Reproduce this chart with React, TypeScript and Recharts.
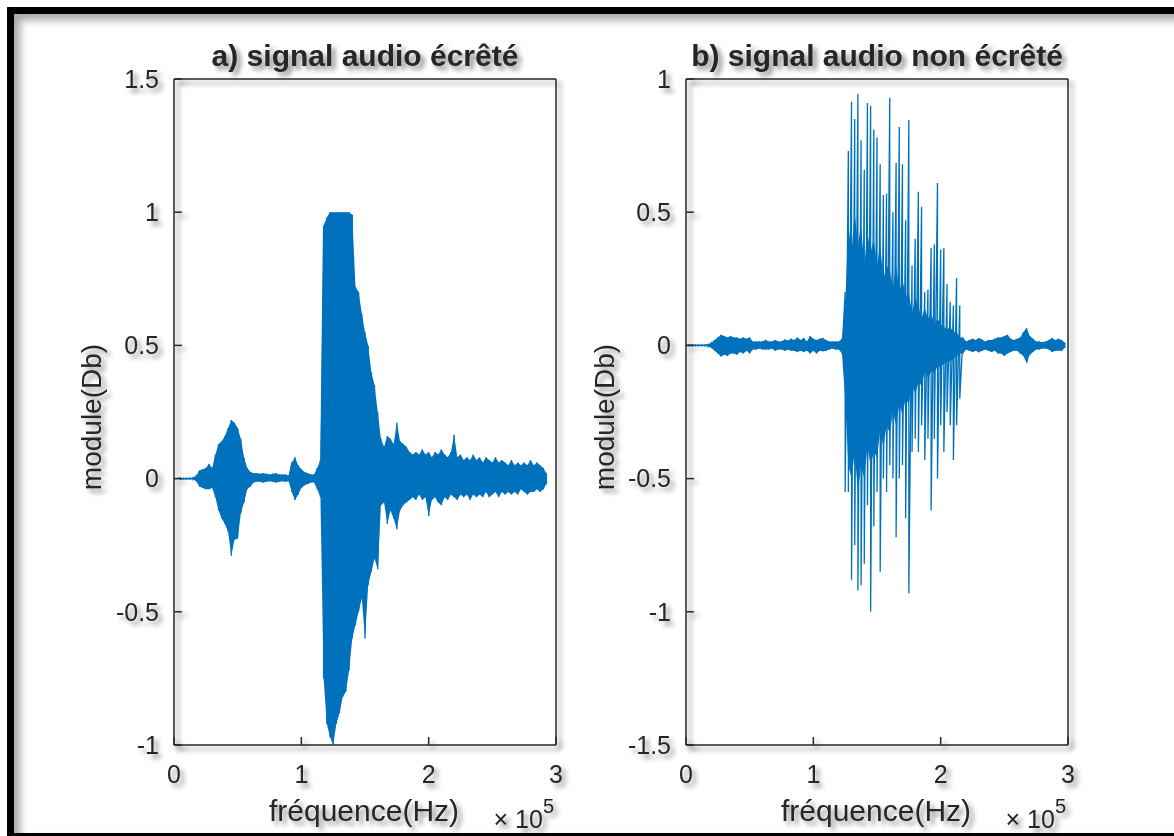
import { Area, ComposedChart, Line, XAxis, YAxis } from 'recharts';

// envelope of the signal, one (high, low) pair per 2.5 kHz bin
const BIN_HZ = 2500;

const xTicks = [0, 100000, 200000, 300000];
const aYTicks = [-1, -0.5, 0, 0.5, 1, 1.5];
const bYTicks = [-1.5, -1, -0.5, 0, 0.5, 1];

// a) clipped signal
const aHigh = [
  0, 0, 0.002, 0.002, 0.002, 0.002, 0.003, 0.01, 0.03, 0.035,
  0.04, 0.055, 0.04, 0.09, 0.13, 0.14, 0.16, 0.19, 0.22, 0.21,
  0.19, 0.15, 0.08, 0.04, 0.025, 0.02, 0.02, 0.018, 0.02, 0.018,
  0.015, 0.018, 0.02, 0.015, 0.015, 0.015, 0.012, 0.06, 0.08, 0.05,
  0.035, 0.025, 0.02, 0.015, 0.015, 0.04, 0.07, 0.95, 0.98, 1.0,
  1.0, 1.0, 1.0, 1.0, 1.0, 1.0, 0.99, 0.72, 0.7, 0.62,
  0.55, 0.5, 0.4, 0.35, 0.25, 0.15, 0.12, 0.16, 0.15, 0.13,
  0.21, 0.14, 0.13, 0.12, 0.1, 0.09, 0.1, 0.09, 0.11, 0.09,
  0.1, 0.08, 0.1, 0.09, 0.11, 0.09, 0.08, 0.1, 0.165, 0.08,
  0.09, 0.07, 0.08, 0.07, 0.09, 0.07, 0.08, 0.06, 0.08, 0.07,
  0.06, 0.08, 0.06, 0.07, 0.06, 0.05, 0.07, 0.05, 0.06, 0.05,
  0.06, 0.05, 0.07, 0.05, 0.06, 0.05, 0.04, 0.02,
];
const aLow = [
  0, 0, -0.002, -0.002, -0.002, -0.002, -0.003, -0.01, -0.03, -0.035,
  -0.04, -0.04, -0.035, -0.07, -0.12, -0.15, -0.17, -0.2, -0.29, -0.23,
  -0.225, -0.13, -0.09, -0.04, -0.03, -0.015, -0.012, -0.012, -0.015, -0.012,
  -0.01, -0.012, -0.015, -0.012, -0.01, -0.012, -0.01, -0.05, -0.08, -0.06,
  -0.035, -0.025, -0.02, -0.015, -0.015, -0.04, -0.07, -0.75, -0.92, -0.97,
  -1.0, -0.92, -0.88, -0.82, -0.8, -0.72, -0.6, -0.55, -0.5, -0.45,
  -0.6, -0.4, -0.35, -0.3, -0.34, -0.1, -0.09, -0.17, -0.12, -0.15,
  -0.19, -0.12, -0.1, -0.09, -0.08, -0.07, -0.08, -0.06, -0.08, -0.07,
  -0.14, -0.08, -0.07, -0.09, -0.1, -0.07, -0.08, -0.06, -0.07, -0.08,
  -0.06, -0.07, -0.06, -0.08, -0.06, -0.07, -0.06, -0.07, -0.05, -0.07,
  -0.06, -0.05, -0.07, -0.05, -0.06, -0.05, -0.06, -0.05, -0.06, -0.04,
  -0.05, -0.06, -0.05, -0.05, -0.04, -0.05, -0.04, -0.02,
];

// b) unclipped signal
const bHigh = [
  0.002, 0.002, 0.002, 0.002, 0.002, 0.002, 0.002, 0.004, 0.01, 0.02,
  0.03, 0.04, 0.035, 0.03, 0.035, 0.03, 0.03, 0.025, 0.03, 0.025,
  0.03, 0.015, 0.015, 0.015, 0.015, 0.02, 0.015, 0.015, 0.02, 0.015,
  0.015, 0.022, 0.018, 0.025, 0.02, 0.03, 0.02, 0.028, 0.015, 0.035,
  0.025, 0.02, 0.025, 0.028, 0.02, 0.015, 0.015, 0.015, 0.015, 0.025,
  0.2, 0.73, 0.915, 0.85, 0.945, 0.77, 0.66, 0.91, 0.9, 0.81,
  0.78, 0.68, 0.565, 0.57, 0.93, 0.5, 0.685, 0.82, 0.68, 0.47,
  0.846, 0.3, 0.4, 0.577, 0.52, 0.2, 0.21, 0.366, 0.38, 0.61,
  0.36, 0.366, 0.23, 0.164, 0.15, 0.253, 0.15, 0.03, 0.015, 0.02,
  0.025, 0.02, 0.028, 0.022, 0.015, 0.02, 0.02, 0.025, 0.03, 0.03,
  0.035, 0.04, 0.025, 0.02, 0.025, 0.03, 0.05, 0.065, 0.035, 0.025,
  0.015, 0.015, 0.012, 0.015, 0.02, 0.028, 0.02, 0.025, 0.02, 0.01,
];
const bLow = [
  -0.002, -0.002, -0.002, -0.002, -0.002, -0.002, -0.002, -0.004, -0.01, -0.02,
  -0.03, -0.042, -0.035, -0.04, -0.03, -0.03, -0.035, -0.025, -0.03, -0.02,
  -0.03, -0.015, -0.015, -0.012, -0.015, -0.015, -0.015, -0.012, -0.02, -0.015,
  -0.015, -0.02, -0.015, -0.02, -0.02, -0.025, -0.02, -0.025, -0.02, -0.03,
  -0.02, -0.03, -0.02, -0.022, -0.02, -0.015, -0.012, -0.015, -0.015, -0.03,
  -0.55, -0.55, -0.88, -0.75, -0.92, -0.9, -0.82, -0.6, -1.0, -0.68,
  -0.55, -0.85, -0.5, -0.55, -0.45, -0.5, -0.72, -0.5, -0.45, -0.65,
  -0.93, -0.4, -0.35, -0.4, -0.3, -0.43, -0.35, -0.62, -0.35, -0.5,
  -0.3, -0.4, -0.25, -0.3, -0.43, -0.3, -0.2, -0.03, -0.015, -0.02,
  -0.025, -0.02, -0.026, -0.02, -0.015, -0.02, -0.025, -0.02, -0.03, -0.03,
  -0.04, -0.03, -0.025, -0.02, -0.02, -0.03, -0.04, -0.066, -0.035, -0.025,
  -0.015, -0.015, -0.012, -0.012, -0.015, -0.025, -0.02, -0.02, -0.02, -0.01,
];

// b) dense core of the burst (bins 50..86), below the isolated peaks
const bBurstFirst = 50;
const bCoreHigh = [
  0.15, 0.45, 0.35, 0.5, 0.38, 0.45, 0.3, 0.42, 0.35, 0.4,
  0.3, 0.38, 0.25, 0.3, 0.28, 0.22, 0.3, 0.2, 0.25, 0.18,
  0.2, 0.12, 0.18, 0.15, 0.1, 0.14, 0.1, 0.12, 0.08, 0.1,
  0.08, 0.07, 0.06, 0.07, 0.05, 0.05, 0.03,
];
const bCoreLow = [
  -0.2, -0.45, -0.5, -0.4, -0.55, -0.45, -0.5, -0.38, -0.45, -0.4,
  -0.42, -0.32, -0.38, -0.3, -0.33, -0.25, -0.3, -0.22, -0.26, -0.2,
  -0.22, -0.15, -0.18, -0.14, -0.15, -0.1, -0.12, -0.1, -0.1, -0.08,
  -0.08, -0.07, -0.06, -0.06, -0.05, -0.04, -0.03,
];

type Pt = { f: number; v: number; core: [number, number] };

// zig-zag between the high and low of each bin, core band kept alongside
const toTrace = (
  high: number[],
  low: number[],
  coreHigh: number[] = [],
  coreLow: number[] = [],
  coreFirst = 0,
): Pt[] =>
  high.flatMap((h, i) => {
    const j = i - coreFirst;
    const inCore = j >= 0 && j < coreHigh.length;
    const core: [number, number] = inCore ? [coreLow[j], coreHigh[j]] : [low[i], h];
    return [
      { f: i * BIN_HZ, v: h, core },
      { f: i * BIN_HZ, v: low[i], core },
    ];
  });

const aTrace = toTrace(aHigh, aLow);
const bTrace = toTrace(bHigh, bLow, bCoreHigh, bCoreLow, bBurstFirst);

const INK = '#262626';
const BLUE = '#0072BD';
const FONT = '"Liberation Sans", Arial, sans-serif';
const axisLine = { stroke: INK, strokeWidth: 1.5 };

interface PanelProps {
  left: number;
  width: number;
  yAxisWidth: number;
  plotRight: number;
  data: Pt[];
  yDomain: [number, number];
  yTicks: number[];
}

const Panel = ({ left, width, yAxisWidth, plotRight, data, yDomain, yTicks }: PanelProps) => (
  <div style={{ position: 'absolute', left, top: 0 }}>
    <ComposedChart
      width={width}
      height={836}
      data={data}
      margin={{ top: 78, right: width - plotRight - 1, bottom: 51, left: 0 }}
    >
      <XAxis
        xAxisId="bottom"
        dataKey="f"
        type="number"
        domain={[0, 300000]}
        ticks={xTicks}
        tickFormatter={(v: number) => String(v / 100000)}
        height={40}
        tickSize={-8}
        tickMargin={28}
        axisLine={axisLine}
        tickLine={axisLine}
        tick={{ fill: INK, fontSize: 25, fontFamily: FONT }}
      />
      <XAxis
        xAxisId="top"
        orientation="top"
        dataKey="f"
        type="number"
        domain={[0, 300000]}
        ticks={xTicks}
        height={1}
        tickSize={-8}
        tick={false}
        axisLine={axisLine}
        tickLine={axisLine}
      />
      <YAxis
        yAxisId="left"
        type="number"
        domain={yDomain}
        ticks={yTicks}
        width={yAxisWidth}
        tickSize={-8}
        tickMargin={23}
        axisLine={axisLine}
        tickLine={axisLine}
        tick={{ fill: INK, fontSize: 25, fontFamily: FONT }}
      />
      <YAxis
        yAxisId="right"
        orientation="right"
        type="number"
        domain={yDomain}
        ticks={yTicks}
        width={1}
        tickSize={-8}
        tick={false}
        axisLine={axisLine}
        tickLine={axisLine}
      />
      <Area
        xAxisId="bottom"
        yAxisId="left"
        type="linear"
        dataKey="core"
        stroke="none"
        fill={BLUE}
        fillOpacity={1}
        dot={false}
        activeDot={false}
        isAnimationActive={false}
      />
      <Line
        xAxisId="bottom"
        yAxisId="left"
        type="linear"
        dataKey="v"
        stroke={BLUE}
        strokeWidth={1.3}
        dot={false}
        activeDot={false}
        isAnimationActive={false}
      />
    </ComposedChart>
  </div>
);

const css = `
body { margin: 0; }
.recharts-cartesian-axis-line,
.recharts-cartesian-axis-tick-line,
.recharts-cartesian-axis-tick-value { filter: url(#lineShade); }
`;

const App = () => (
  <div
    style={{
      position: 'relative',
      width: 1174,
      height: 836,
      overflow: 'hidden',
      background: '#fff',
      fontFamily: FONT,
    }}
  >
    <style>{css}</style>
    <div
      style={{
        position: 'absolute',
        left: 7,
        top: 7,
        width: 1220,
        height: 819,
        borderLeft: '7px solid #000',
        borderTop: '7px solid #000',
        borderBottom: '3px solid #000',
        boxShadow: 'inset 6px 6px 9px rgba(0,0,0,0.35)',
      }}
    />
    <svg width={0} height={0} style={{ position: 'absolute' }}>
      <defs>
        <filter id="lineShade" filterUnits="userSpaceOnUse" x={-100} y={-100} width={1400} height={1100}>
          <feDropShadow dx="4" dy="4" stdDeviation="2.5" floodColor="#000" floodOpacity="0.45" />
        </filter>
      </defs>
    </svg>
    <Panel left={0} width={600} yAxisWidth={174} plotRight={556} data={aTrace} yDomain={[-1, 1.5]} yTicks={aYTicks} />
    <Panel left={600} width={574} yAxisWidth={86} plotRight={468} data={bTrace} yDomain={[-1.5, 1]} yTicks={bYTicks} />
    <svg
      width={1174}
      height={836}
      style={{ position: 'absolute', left: 0, top: 0, pointerEvents: 'none' }}
    >
      <g fill={INK} fontFamily={FONT} filter="url(#lineShade)">
        <text x={365} y={66} textAnchor="middle" fontSize={30} fontWeight="bold">
          a) signal audio écrêté
        </text>
        <text x={877} y={66} textAnchor="middle" fontSize={30} fontWeight="bold">
          b) signal audio non écrêté
        </text>
        <text x={364} y={821} textAnchor="middle" fontSize={30}>
          fréquence(Hz)
        </text>
        <text x={876} y={821} textAnchor="middle" fontSize={30}>
          fréquence(Hz)
        </text>
        <text x={554} y={828} textAnchor="end" fontSize={25}>
          × 10<tspan dy={-15} fontSize={20}>5</tspan>
        </text>
        <text x={1066} y={828} textAnchor="end" fontSize={25}>
          × 10<tspan dy={-15} fontSize={20}>5</tspan>
        </text>
        <text transform="translate(101 417) rotate(-90)" textAnchor="middle" fontSize={28}>
          module(Db)
        </text>
        <text transform="translate(614 417) rotate(-90)" textAnchor="middle" fontSize={28}>
          module(Db)
        </text>
      </g>
    </svg>
  </div>
);

export default App;
